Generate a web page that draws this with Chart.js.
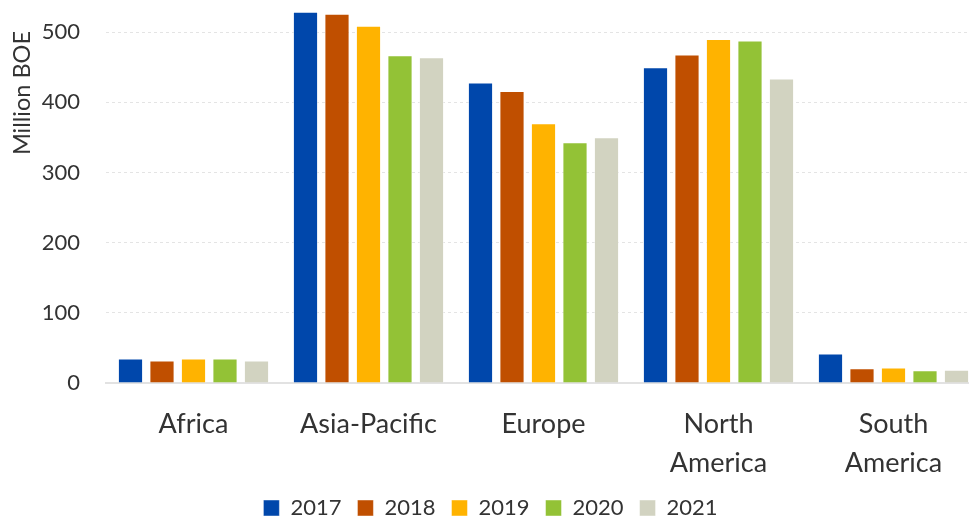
<!DOCTYPE html>
<html>
<head>
<meta charset="utf-8">
<script src="https://cdn.jsdelivr.net/npm/chart.js@4/dist/chart.umd.min.js"></script>
<style>
  html, body { margin: 0; padding: 0; background: #ffffff; overflow: hidden; }
  #wrap { width: 981px; height: 520px; position: relative; }
</style>
</head>
<body>
<div id="wrap"><canvas id="c"></canvas></div>
<script>
// ---- data ----
const categories = ['Africa', 'Asia-Pacific', 'Europe', ['North', 'America'], ['South', 'America']];
const seriesNames = ['2017', '2018', '2019', '2020', '2021'];
const values2017 = [35, 529, 428, 450, 42];
const values2018 = [32, 526, 416, 468, 21];
const values2019 = [35, 509, 370, 490, 22];
const values2020 = [35, 467, 343, 488, 18];
const values2021 = [32, 464, 350, 434, 19];
const yTickValues = [0, 100, 200, 300, 400, 500];
const yAxisTitle = 'Million BOE';

// ---- styles ----
const colors = ['#0047AB', '#C04F00', '#FFB300', '#93C236', '#D2D3C1'];
const FONT = 'Lato, "Open Sans", sans-serif';
const TEXT = '#333333';
const Y_MAX = 545.7;

const seriesValues = [values2017, values2018, values2019, values2020, values2021];

const yTitlePlugin = {
  id: 'yTitle',
  afterDraw(chart) {
    const ctx = chart.ctx;
    ctx.save();
    ctx.font = '23.5px ' + FONT;
    ctx.fillStyle = TEXT;
    ctx.translate(22, 31);
    ctx.rotate(-Math.PI / 2);
    ctx.textAlign = 'right';
    ctx.textBaseline = 'middle';
    ctx.fillText(yAxisTitle, 0, 0);
    ctx.restore();
  }
};

new Chart(document.getElementById('c'), {
  type: 'bar',
  data: {
    labels: categories,
    datasets: seriesNames.map((name, i) => ({
      label: name,
      data: seriesValues[i],
      backgroundColor: colors[i],
      borderColor: 'rgba(255,255,255,0.45)',
      borderWidth: 1,
      categoryPercentage: 0.9,
      barPercentage: 0.8
    }))
  },
  options: {
    responsive: true,
    maintainAspectRatio: false,
    animation: false,
    layout: { padding: { top: 0, left: 0, right: 0, bottom: -9 } },
    plugins: {
      tooltip: { enabled: false },
      legend: {
        position: 'bottom',
        labels: {
          boxWidth: 16,
          boxHeight: 16,
          padding: 16,
          color: TEXT,
          font: { family: FONT, size: 22 }
        }
      }
    },
    scales: {
      x: {
        grid: { display: false, drawTicks: false },
        border: { display: true, color: '#e2e2e2', width: 2 },
        ticks: {
          color: TEXT,
          padding: 22,
          maxRotation: 0,
          autoSkip: false,
          font: { family: FONT, size: 27, lineHeight: 1.45 }
        },
        afterFit(s) { s.height = 98; }
      },
      y: {
        min: 0,
        max: Y_MAX,
        grace: 0,
        grid: { color: '#e4e4e4', lineWidth: 1, drawTicks: false },
        border: { display: false, dash: [3, 3] },
        ticks: {
          color: TEXT,
          padding: 26,
          font: { family: FONT, size: 22 }
        },
        afterDataLimits(s) { s.min = 0; s.max = Y_MAX; },
        afterBuildTicks(s) { s.ticks = yTickValues.map(v => ({ value: v })); },
        afterFit(s) { s.width = 106; s.paddingTop = 0; s.paddingBottom = 0; }
      }
    }
  },
  plugins: [yTitlePlugin]
});
</script>
</body>
</html>
